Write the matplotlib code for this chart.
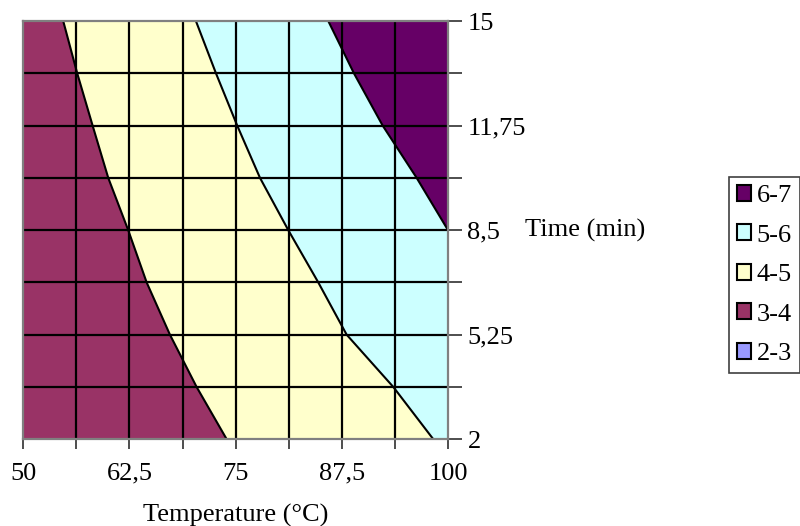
import matplotlib.pyplot as plt
from matplotlib.patches import Patch

plt.rcParams['font.family'] = ['Liberation Serif', 'DejaVu Serif']

# time levels (min) at the grid rows
time = [2, 3.625, 5.25, 6.875, 8.5, 10.125, 11.75, 13.375, 15]
# temperature where each contour crosses the rows
edge_3_4 = [73.95, 70.41, 67.27, 64.53, 62.36, 60.01, 58.17, 56.36, 54.71]
edge_4_5 = [98.27, 93.56, 88.07, 84.73, 81.2, 77.87, 75.19, 72.69, 70.33]
time_hi = [8.5, 10.125, 11.75, 13.375, 15]
edge_5_6 = [100.0, 96.31, 92.31, 88.93, 85.91]

x_ticks = [50, 56.25, 62.5, 68.75, 75, 81.25, 87.5, 93.75, 100]
x_labels = ['50', '', '62,5', '', '75', '', '87,5', '', '100']
y_ticks = [2, 3.625, 5.25, 6.875, 8.5, 10.125, 11.75, 13.375, 15]
y_labels = ['2', '', '5,25', '', '8,5', '', '11,75', '', '15']

bands = ['6-7', '5-6', '4-5', '3-4', '2-3']
band_colors = ['#660066', '#CCFFFF', '#FFFFCC', '#993366', '#9999FF']

fig = plt.figure(figsize=(8, 5.26), dpi=100)
ax = fig.add_axes([0.029, 0.165, 0.531, 0.795])

ax.fill_betweenx(time, 50, edge_3_4, color=band_colors[3], lw=0)
ax.fill_betweenx(time, edge_3_4, edge_4_5, color=band_colors[2], lw=0)
ax.fill_betweenx(time, edge_4_5, 100, color=band_colors[1], lw=0)
ax.fill_betweenx(time_hi, edge_5_6, 100, color=band_colors[0], lw=0)

for xs, ys in [(edge_3_4, time), (edge_4_5, time), (edge_5_6, time_hi)]:
    ax.plot(xs, ys, color='black', lw=1.5, zorder=3)

for xv in x_ticks[1:-1]:
    ax.axvline(xv, color='black', lw=1.6, zorder=4)
for yv in y_ticks[1:-1]:
    ax.axhline(yv, color='black', lw=1.6, zorder=4)

ax.set_xlim(50, 100)
ax.set_ylim(2, 15)
for s in ax.spines.values():
    s.set_color('#808080')
    s.set_linewidth(1.6)
    s.set_zorder(5)

ax.set_xticks(x_ticks)
ax.set_xticklabels(x_labels, fontsize=19)
ax.yaxis.tick_right()
ax.set_yticks(y_ticks)
ax.set_yticklabels(y_labels, fontsize=19)
ax.tick_params(axis='x', direction='out', length=7, width=1.3, color='#404040', pad=10)
ax.tick_params(axis='y', direction='out', length=10, width=1.3, color='#404040', pad=4)

ax.set_xlabel('Temperature (°C)', fontsize=19, labelpad=14)
fig.text(0.656, 1 - 230 / 526, 'Time (min)', fontsize=19, va='center', ha='left')

handles = [Patch(facecolor=c, edgecolor='black', lw=1.5) for c in band_colors]
leg = fig.legend(handles, bands, loc='lower left', bbox_to_anchor=(0.911, 0.291),
                 bbox_transform=fig.transFigure, borderaxespad=0, fontsize=19,
                 handlelength=0.55, handleheight=0.55, handletextpad=0.2,
                 labelspacing=0.65, borderpad=0.3, fancybox=False, framealpha=1)
leg.get_frame().set_edgecolor('#404040')
leg.get_frame().set_linewidth(1.2)

fig.savefig('out.png', dpi=100)
